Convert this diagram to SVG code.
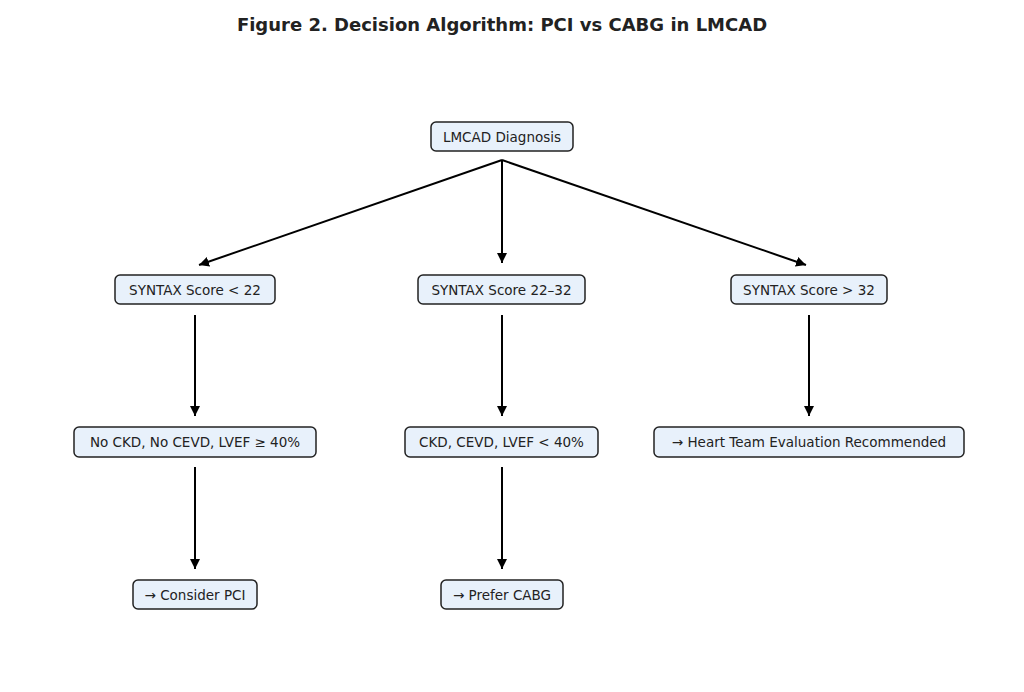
<svg xmlns="http://www.w3.org/2000/svg" width="1024" height="692" viewBox="0 0 1024 692">
<style>
.n rect{fill:#e8f1fb;stroke:#222;stroke-width:1.5}
.n text{font-family:"DejaVu Sans",sans-serif;font-size:13.5px;fill:#222;text-anchor:middle;dominant-baseline:central}
.c line{stroke:#000;stroke-width:2;marker-end:url(#a)}
</style>
<defs><marker id="a" viewBox="0 0 10 10" refX="10" refY="5" markerWidth="5" markerHeight="5" orient="auto" markerUnits="strokeWidth"><path d="M0,0L10,5L0,10z" fill="#000"/></marker></defs>
<rect width="1024" height="692" fill="#fff"/>
<text x="502" y="31" font-family="DejaVu Sans,sans-serif" font-weight="bold" font-size="18" text-anchor="middle" fill="#222">Figure 2. Decision Algorithm: PCI vs CABG in LMCAD</text>
<g class="c">
<line x1="502" y1="160" x2="199" y2="265"/>
<line x1="502" y1="160" x2="502" y2="263"/>
<line x1="502" y1="160" x2="806" y2="265"/>
<line x1="195" y1="315" x2="195" y2="416"/>
<line x1="502" y1="315" x2="502" y2="416"/>
<line x1="809" y1="315" x2="809" y2="416"/>
<line x1="195" y1="467" x2="195" y2="569"/>
<line x1="502" y1="467" x2="502" y2="569"/>
</g>
<g id="n1" class="n"><rect x="431" y="122" width="142" height="29" rx="5"/><text x="502" y="136.5">LMCAD Diagnosis</text></g>
<g id="n2" class="n"><rect x="115" y="275" width="160" height="29" rx="5"/><text x="195" y="289.5">SYNTAX Score &lt; 22</text></g>
<g id="n3" class="n"><rect x="418" y="275" width="167" height="29" rx="5"/><text x="501.5" y="289.5">SYNTAX Score 22–32</text></g>
<g id="n4" class="n"><rect x="731" y="275" width="156" height="29" rx="5"/><text x="809" y="289.5">SYNTAX Score &gt; 32</text></g>
<g id="n5" class="n"><rect x="74" y="427" width="242" height="30" rx="5"/><text x="195" y="442">No CKD, No CEVD, LVEF ≥ 40%</text></g>
<g id="n6" class="n"><rect x="405" y="427" width="193" height="30" rx="5"/><text x="501.5" y="442">CKD, CEVD, LVEF &lt; 40%</text></g>
<g id="n7" class="n"><rect x="654" y="427" width="310" height="30" rx="5"/><text x="809" y="442">→ Heart Team Evaluation Recommended</text></g>
<g id="n8" class="n"><rect x="133" y="580" width="124" height="29" rx="5"/><text x="195" y="594.5">→ Consider PCI</text></g>
<g id="n9" class="n"><rect x="441" y="580" width="122" height="29" rx="5"/><text x="502" y="594.5">→ Prefer CABG</text></g>
</svg>
